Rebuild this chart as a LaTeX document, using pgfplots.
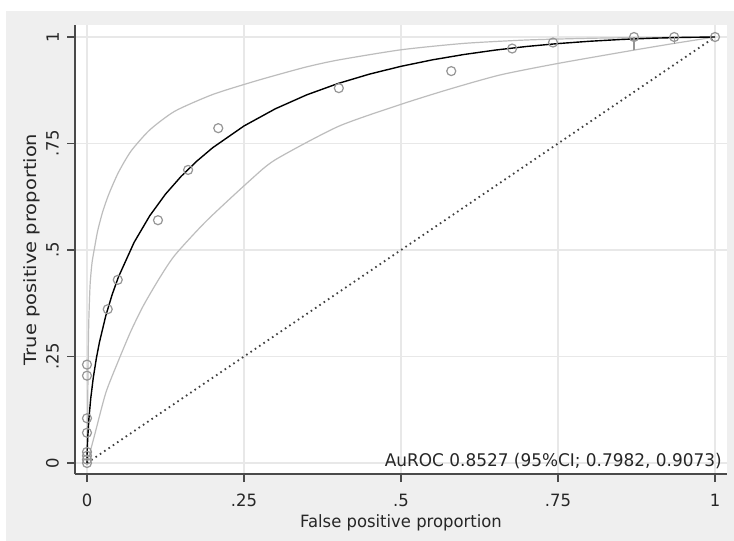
\documentclass[border=0pt]{standalone}
\usepackage{fontspec}
\setmainfont{DejaVu Sans}[FakeStretch=0.97]
\newfontfamily\vlabelfont{DejaVu Sans}[FakeStretch=1.15]
\usepackage{pgfplots}
\pgfplotsset{compat=1.18}

\definecolor{bgray}{HTML}{EFEFEF}
\definecolor{gridc}{HTML}{E8E8E8}
\definecolor{cigray}{HTML}{BDBDBD}
\definecolor{ptgray}{HTML}{969696}
\definecolor{axgray}{HTML}{4A4A4A}

\begin{document}
\begin{tikzpicture}[x=1bp,y=1bp]
% page and graph region
\fill[white] (0,0) rectangle (734,-541);
\fill[bgray] (6,-11) rectangle (734,-541);
\begin{axis}[
    at={(75bp,-474bp)}, anchor=south west,
    scale only axis, width=652bp, height=449bp,
    xmin=-0.0191, xmax=1.0191, ymin=-0.0258, ymax=1.0282,
    axis background/.style={fill=white},
    axis x line*=bottom, axis y line*=left,
    axis line style={axgray, line width=1.2bp, -},
    xtick={0,0.25,0.5,0.75,1}, ytick={0,0.25,0.5,0.75,1},
    xticklabels={0,.25,.5,.75,1}, yticklabels={0,.25,.5,.75,1},
    tick align=outside, major tick length=8bp,
    tick style={axgray, line width=1.1bp},
    grid=major, major grid style={gridc, line width=1.8bp},
    /pgf/number format/assume math mode=true,
    tick label style={font=\fontsize{17}{20}\selectfont, text=black!85},
    yticklabel style={rotate=90, anchor=south, inner xsep=2bp, inner ysep=8bp},
    xticklabel style={anchor=north, inner sep=2bp},
    xticklabel shift=10bp,
    xlabel={False positive proportion},
    ylabel={\vlabelfont True positive proportion},
    xlabel style={font=\fontsize{17}{20}\selectfont, text=black!85,
        at={(axis description cs:0.5,-0.108)}, anchor=center},
    ylabel style={font=\fontsize{17}{20}\selectfont, text=black!85,
        at={(axis description cs:-0.066,0.5)}, anchor=center},
    clip=false,
]
% upper confidence band
\addplot[cigray, line width=1.2bp, smooth, tension=0.4] coordinates {
(0,0) (0.0005,0.06) (0.001,0.12) (0.002,0.26) (0.003,0.34) (0.005,0.42)
(0.008,0.47) (0.012,0.505) (0.017,0.545) (0.025,0.59) (0.035,0.632)
(0.05,0.682) (0.07,0.732) (0.1,0.782) (0.14,0.826) (0.2,0.865) (0.26,0.893)
(0.3,0.91) (0.35,0.93) (0.4,0.946) (0.5,0.970) (0.6,0.985) (0.7,0.993)
(0.8,0.997) (0.9,0.999) (1,1)
};
% lower confidence band
\addplot[cigray, line width=1.2bp, smooth, tension=0.4] coordinates {
(0,0) (0.002,0.01) (0.012,0.065) (0.03,0.165) (0.05,0.24) (0.07,0.31)
(0.09,0.37) (0.115,0.433) (0.14,0.488) (0.19,0.568) (0.26,0.664) (0.3,0.712)
(0.4,0.79) (0.5,0.842) (0.578,0.878) (0.658,0.911) (0.75,0.938) (0.87,0.969)
(0.935,0.985) (1,1)
};
% chance line
\addplot[black!75, line width=1.8bp, dash pattern=on 1.6bp off 3.6bp] coordinates {(0,0) (1,1)};
% fitted ROC curve
\addplot[black, line width=1.4bp] coordinates {
(0,0) (0.0001,0.0127) (0.0003,0.0258) (0.001,0.0542) (0.003,0.1033)
(0.006,0.1522) (0.01,0.2001) (0.015,0.2467) (0.02,0.2847) (0.03,0.3461)
(0.04,0.3951) (0.05,0.4364) (0.075,0.5179) (0.1,0.5806) (0.125,0.6312)
(0.15,0.6731) (0.175,0.7088) (0.2,0.7400) (0.25,0.7912) (0.3,0.8316)
(0.35,0.8643) (0.4,0.8910) (0.45,0.9130) (0.5,0.9312) (0.55,0.9464)
(0.6,0.9589) (0.65,0.9693) (0.7,0.9778) (0.75,0.9846) (0.8,0.9900)
(0.85,0.9942) (0.9,0.9972) (0.95,0.9991) (1,1)
};
% short spikes below the top points
\addplot[ptgray, line width=1.2bp] coordinates {(0.871,1) (0.871,0.969)};
\addplot[ptgray, line width=1.2bp] coordinates {(0.935,1) (0.935,0.984)};
% empirical points
\addplot[only marks, mark=o, mark size=4.5bp, mark options={ptgray, line width=1.2bp}] coordinates {
(0,0) (0,0.008) (0,0.017) (0,0.026) (0,0.071) (0,0.105) (0,0.205) (0,0.231)
(0.033,0.361) (0.049,0.430) (0.113,0.570) (0.161,0.688) (0.209,0.786)
(0.401,0.880) (0.580,0.920) (0.677,0.973) (0.742,0.987) (0.871,1)
(0.935,1) (1,1)
};
\node[anchor=base east, inner sep=0pt, font=\fontsize{17.5}{20}\selectfont, text=black!85]
  at (axis cs:1.011,-0.009) {AuROC 0.8527 (95\%CI; 0.7982, 0.9073)};
\end{axis}
\end{tikzpicture}
\end{document}
